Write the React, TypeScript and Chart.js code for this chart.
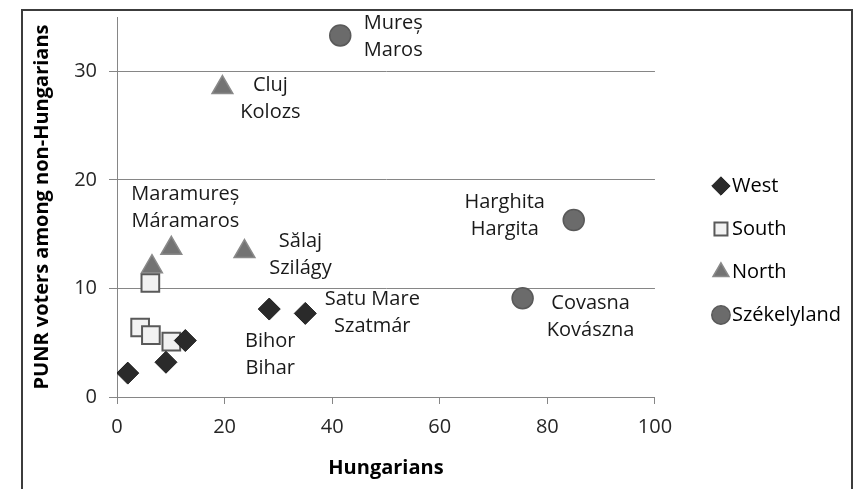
import { useEffect, useRef } from 'react';
import { Chart, registerables } from 'chart.js';

Chart.register(...registerables);

// ---------- data ----------
const seriesNames = ['West', 'South', 'North', 'Székelyland'];

const westX = [2.0, 9.1, 12.7, 28.3, 35.0];
const westY = [2.2, 3.2, 5.2, 8.1, 7.7];

const southX = [6.2, 4.3, 6.3, 10.1];
const southY = [10.5, 6.4, 5.7, 5.1];

const northX = [19.6, 6.5, 10.1, 23.7];
const northY = [28.5, 12.0, 13.7, 13.4];

const szekX = [41.5, 84.9, 75.4];
const szekY = [33.3, 16.3, 9.1];

const xTickValues = [0, 20, 40, 60, 80, 100];
const yTickValues = [0, 10, 20, 30];

const xTitle = 'Hungarians';
const yTitle = 'PUNR voters among non-Hungarians';

// county labels: series index, point index, text lines
const countySeries = [3, 2, 2, 2, 3, 3, 0, 0];
const countyPoint = [0, 0, 2, 3, 1, 2, 4, 3];
const countyText = [
  ['Mureș', 'Maros'],
  ['Cluj', 'Kolozs'],
  ['Maramureș', 'Máramaros'],
  ['Sălaj', 'Szilágy'],
  ['Harghita', 'Hargita'],
  ['Covasna', 'Kovászna'],
  ['Satu Mare', 'Szatmár'],
  ['Bihor', 'Bihar'],
];
// ---------- presentation ----------
const labelOffsets = [
  [53, 1],
  [48, 11],
  [14, -40],
  [56, 3],
  [-69, -4],
  [68, 19],
  [67, -1],
  [1, 46],
];
const LABEL_LINE = 27;
const FONT = '"Open Sans", sans-serif';
const AXIS_GRAY = '#868686';
const LEGEND_GAP = 42;

const toPoints = (xs: number[], ys: number[]) => xs.map((x, i) => ({ x, y: ys[i] }));

const countyLabelPlugin = {
  id: 'countyLabels',
  afterLayout(chart: any) {
    // leave a gap between the plot area and the legend column
    const lg = chart.legend;
    if (lg) {
      lg.left += LEGEND_GAP;
      lg.right += LEGEND_GAP;
    }
  },
  afterDatasetsDraw(chart: any) {
    const ctx = chart.ctx;
    ctx.save();
    ctx.font = `20px ${FONT}`;
    ctx.fillStyle = '#1a1a1a';
    ctx.textAlign = 'center';
    ctx.textBaseline = 'middle';
    countyText.forEach((lines, k) => {
      const el = chart.getDatasetMeta(countySeries[k]).data[countyPoint[k]];
      if (!el) return;
      const [dx, dy] = labelOffsets[k];
      const cx = el.x + dx;
      const cy = el.y + dy;
      lines.forEach((t, j) => {
        ctx.fillText(t, cx, cy + (j - (lines.length - 1) / 2) * LABEL_LINE);
      });
    });
    ctx.restore();
  },
};

export default function App() {
  const canvasRef = useRef<HTMLCanvasElement | null>(null);

  useEffect(() => {
    const canvas = canvasRef.current;
    if (!canvas) return;
    const chart = new Chart(canvas, {
      type: 'scatter',
      data: {
        datasets: [
          {
            label: seriesNames[0],
            data: toPoints(westX, westY),
            pointStyle: 'rectRot',
            pointRadius: 11,
            backgroundColor: '#2a2a2a',
            borderColor: '#1e1e1e',
            borderWidth: 1,
          },
          {
            label: seriesNames[1],
            data: toPoints(southX, southY),
            pointStyle: 'rect',
            pointRadius: 12.5,
            backgroundColor: '#f2f2f2',
            borderColor: '#595959',
            borderWidth: 2,
          },
          {
            label: seriesNames[2],
            data: toPoints(northX, northY),
            pointStyle: 'triangle',
            pointRadius: 12,
            backgroundColor: '#737373',
            borderColor: '#8a8a8a',
            borderWidth: 1.5,
          },
          {
            label: seriesNames[3],
            data: toPoints(szekX, szekY),
            pointStyle: 'circle',
            pointRadius: 10.5,
            backgroundColor: '#6b6b6b',
            borderColor: '#595959',
            borderWidth: 1.5,
          },
        ],
      },
      options: {
        responsive: false,
        animation: false,
        events: [],
        layout: { padding: { left: 22, top: 17, right: 46, bottom: 5 } },
        plugins: {
          legend: {
            position: 'right',
            align: 'center',
            labels: {
              usePointStyle: true,
              boxWidth: 2,
              boxHeight: 13,
              padding: 23,
              color: '#000',
              font: { family: FONT, size: 20 },
            },
          },
          tooltip: { enabled: false },
        },
        scales: {
          x: {
            type: 'linear',
            min: 0,
            max: 100,
            afterBuildTicks: (s: any) => {
              s.ticks = xTickValues.map((v) => ({ value: v }));
            },
            afterFit: (s: any) => {
              s.height = 87;
            },
            ticks: {
              color: '#262626',
              padding: 11,
              font: { family: FONT, size: 20 },
            },
            grid: {
              drawOnChartArea: false,
              drawTicks: true,
              tickLength: 7,
              color: AXIS_GRAY,
            },
            border: { color: AXIS_GRAY, width: 1 },
            title: {
              display: true,
              text: xTitle,
              color: '#000',
              font: { family: FONT, size: 20, weight: 'bold' },
              padding: { top: 0, bottom: 4 },
            },
          },
          y: {
            type: 'linear',
            min: 0,
            max: 35,
            afterBuildTicks: (s: any) => {
              s.ticks = yTickValues.map((v) => ({ value: v }));
            },
            afterFit: (s: any) => {
              s.width = 95;
              s.paddingTop = 0;
              s.paddingBottom = 0;
            },
            ticks: {
              color: '#262626',
              padding: 12,
              font: { family: FONT, size: 20 },
            },
            grid: {
              drawTicks: true,
              tickLength: 8,
              color: AXIS_GRAY,
            },
            border: { color: AXIS_GRAY, width: 1 },
            title: {
              display: true,
              text: yTitle,
              color: '#000',
              font: { family: FONT, size: 20, weight: 'bold' },
              padding: { top: 8, bottom: 0 },
            },
          },
        },
      } as any,
      plugins: [countyLabelPlugin],
    });
    return () => chart.destroy();
  }, []);

  return (
    <div
      style={{
        position: 'fixed',
        left: 0,
        top: 0,
        width: 855,
        height: 489,
        overflow: 'hidden',
        background: '#fff',
      }}
    >
      <canvas ref={canvasRef} width={855} height={489} style={{ display: 'block' }} />
      <div
        style={{
          position: 'absolute',
          left: 21,
          top: 9,
          width: 832,
          height: 500,
          boxSizing: 'border-box',
          borderTop: '2px solid #3c3c3c',
          borderLeft: '2px solid #3c3c3c',
          borderRight: '2px solid #3c3c3c',
          pointerEvents: 'none',
        }}
      />
    </div>
  );
}
